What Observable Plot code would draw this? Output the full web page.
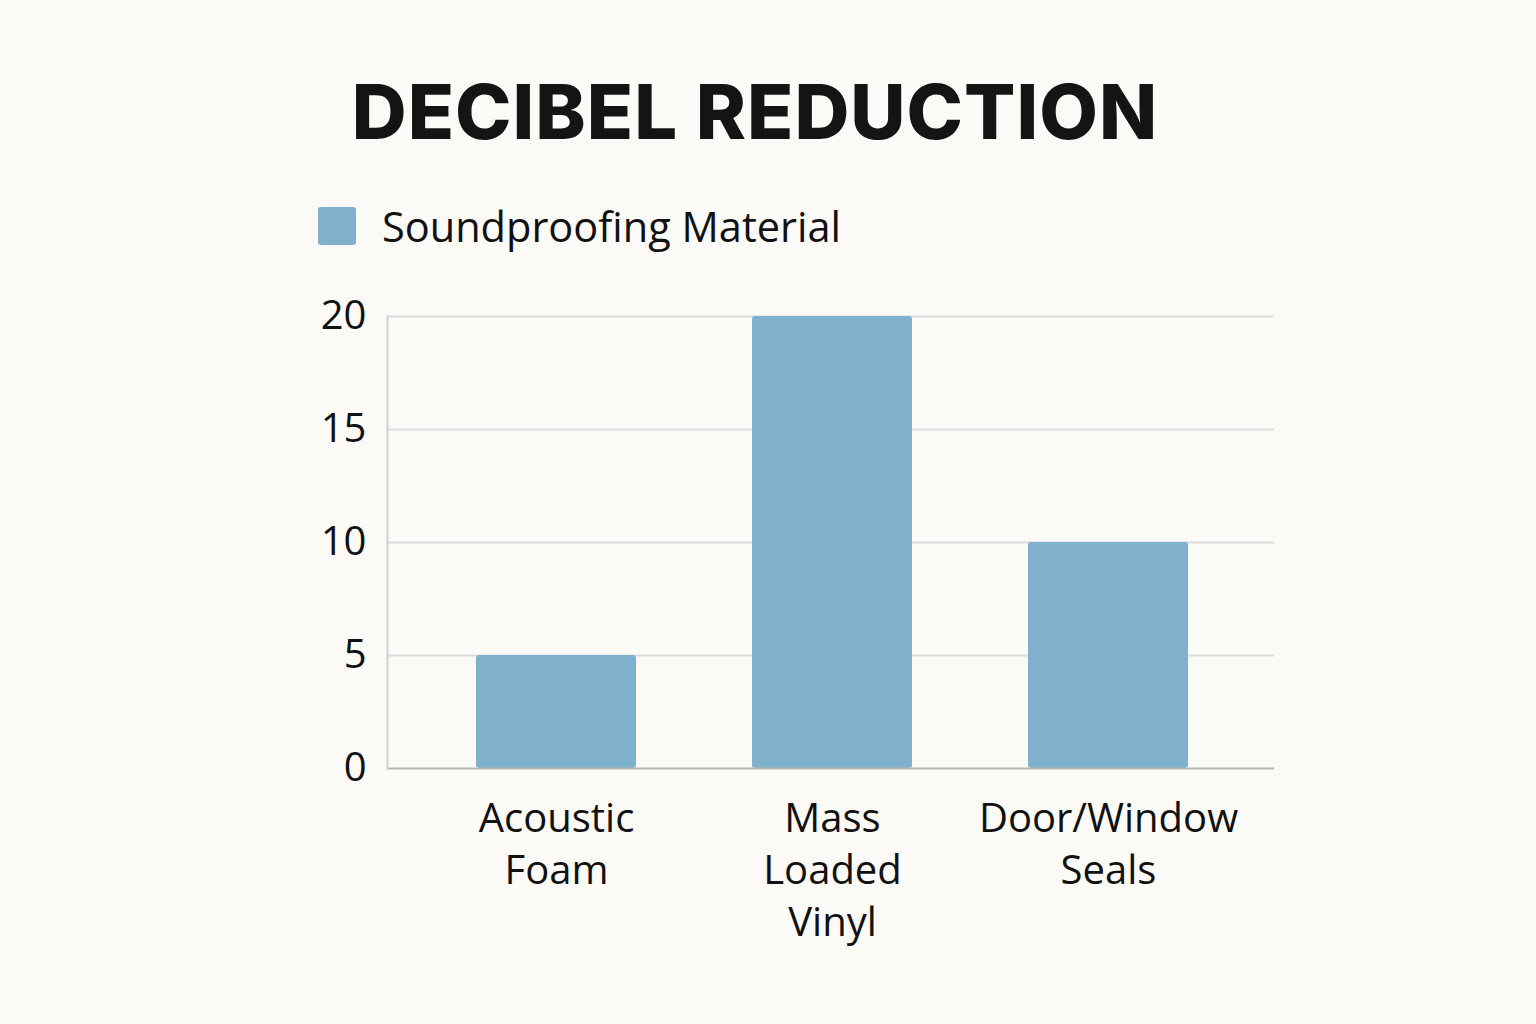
<!DOCTYPE html>
<html><head><meta charset="utf-8">
<script src="https://cdn.jsdelivr.net/npm/d3@7"></script>
<script src="https://cdn.jsdelivr.net/npm/@observablehq/plot@0.6"></script>
<style>
html,body{margin:0;padding:0;background:#fbfaf7;}
#wrap{position:relative;width:1536px;height:1024px;overflow:hidden;font-family:"Open Sans",Roboto,sans-serif;color:#111;}
#title{position:absolute;left:0;width:1510px;top:61px;text-align:center;font-family:Inter,Roboto,sans-serif;font-weight:800;font-size:76px;line-height:100px;letter-spacing:1px;color:#141414;}
#legend{position:absolute;left:318px;top:198px;display:flex;align-items:center;font-size:41.5px;}
#legend .sw{width:38px;height:38px;border-radius:3px;margin-right:26px;}
#chart{position:absolute;left:0;top:270px;}
</style></head>
<body><div id="wrap">
<div id="title">DECIBEL REDUCTION</div>
<div id="legend"><span class="sw"></span><span id="legtext"></span></div>
<div id="chart"></div>
</div>
<script>
const categories = ["Acoustic Foam", "Mass Loaded Vinyl", "Door/Window Seals"];
const tickLabels = ["Acoustic\nFoam", "Mass\nLoaded\nVinyl", "Door/Window\nSeals"];
const values = [5, 20, 10];
const yTicks = [0, 5, 10, 15, 20];
const seriesName = "Soundproofing Material";
const barColor = "#7fb0cc";

document.querySelector("#legend .sw").style.background = barColor;
document.getElementById("legtext").textContent = seriesName;

const data = categories.map((c, i) => ({category: c, value: values[i]}));

const chart = Plot.plot({
  width: 1536,
  height: 754,
  marginLeft: 387,
  marginRight: 262,
  marginTop: 46,
  marginBottom: 256,
  style: {background: "transparent", fontFamily: "'Open Sans', Roboto, sans-serif", color: "#111"},
  x: {domain: categories, range: [360, 1304], padding: 0.42, label: null},
  y: {domain: [0, 20], label: null},
  marks: [
    Plot.ruleY(yTicks.filter(d => d > 0), {stroke: "#dcdcdc", strokeWidth: 2}),
    Plot.barY(data, {x: "category", y: "value", fill: barColor, rx: 3}),
    Plot.ruleY([0], {stroke: "#b5b5b5", strokeWidth: 2}),
    Plot.frame({anchor: "left", stroke: "#cfcfcf", strokeWidth: 2}),
    Plot.axisY({ticks: yTicks, tickSize: 0, tickPadding: 21, fontSize: 40, fill: "#111"}),
    Plot.axisX({tickSize: 0, tickPadding: 27, fontSize: 40, lineHeight: 1.3, fill: "#111",
      tickFormat: d => tickLabels[categories.indexOf(d)]})
  ]
});
document.getElementById("chart").appendChild(chart);
</script>
</body></html>
